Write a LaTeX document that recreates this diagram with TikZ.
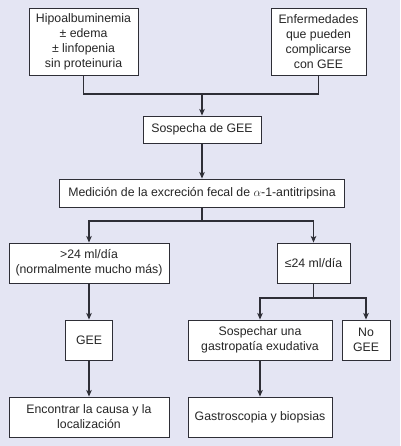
\documentclass[tikz,border=0pt]{standalone}
\usepackage{fontspec}
\setmainfont{Liberation Sans}
\usetikzlibrary{arrows.meta}
\definecolor{bg}{HTML}{E4E5F3}
\definecolor{ln}{HTML}{2E2E36}
\begin{document}
\begin{tikzpicture}[x=1pt,y=-1pt,
  box/.style={draw=ln,line width=0.9pt,fill=white,inner sep=0pt,align=center,
    font=\fontsize{12.3}{15}\selectfont,text=black!85},
  conn/.style={draw=ln,line width=1.1pt},
  arr/.style={conn,-{Stealth[length=6.5pt,width=5.5pt,inset=1.5pt]}}]
\fill[bg] (0,0) rectangle (400,446);
\useasboundingbox (0,0) rectangle (400,446);
\node[box,minimum width=109pt,minimum height=67pt] (hipo) at (83.5,41.5)
  {Hipoalbuminemia\\± edema\\± linfopenia\\sin proteinuria};
\node[box,minimum width=95pt,minimum height=67pt] (enf) at (318.5,41.5)
  {Enfermedades\\que pueden\\complicarse\\con GEE};
\node[box,minimum width=118pt,minimum height=27pt] (sosp) at (202,129.5) {Sospecha de GEE};
\node[box,minimum width=285pt,minimum height=28pt] (med) at (202,193)
  {Medición de la excreción fecal de $\alpha$-1-antitripsina};
\node[box,minimum width=160pt,minimum height=40pt] (gt) at (89,263)
  {>24 ml/día\\(normalmente mucho más)};
\node[box,minimum width=73pt,minimum height=40pt] (le) at (313.5,263) {≤24 ml/día};
\node[box,minimum width=47pt,minimum height=40pt] (gee) at (89,340) {GEE};
\node[box,minimum width=144pt,minimum height=40pt] (sosx) at (260,340)
  {Sospechar una\\gastropatía exudativa};
\node[box,minimum width=48pt,minimum height=40pt] (nogee) at (366,340) {No\\GEE};
\node[box,minimum width=160pt,minimum height=40pt] (enc) at (89,417)
  {Encontrar la causa y la\\localización};
\node[box,minimum width=144pt,minimum height=40pt] (gastro) at (260,417)
  {Gastroscopia y biopsias};
\coordinate (j1) at (202,94);
\coordinate (j2) at (202,221);
\coordinate (j3) at (313.5,298);
\draw[conn] (hipo.south) |- (j1);
\draw[conn] (enf.south) |- (j1);
\draw[arr] (j1) -- (sosp.north);
\draw[arr] (sosp.south) -- (med.north);
\draw[conn] (med.south) -- (j2);
\draw[arr] (j2) -| (gt.north);
\draw[arr] (j2) -| (le.north);
\draw[arr] (gt.south) -- (gee.north);
\draw[arr] (gee.south) -- (enc.north);
\draw[conn] (le.south) -- (j3);
\draw[arr] (j3) -| (sosx.north);
\draw[arr] (j3) -| (nogee.north);
\draw[arr] (sosx.south) -- (gastro.north);
\end{tikzpicture}
\end{document}
